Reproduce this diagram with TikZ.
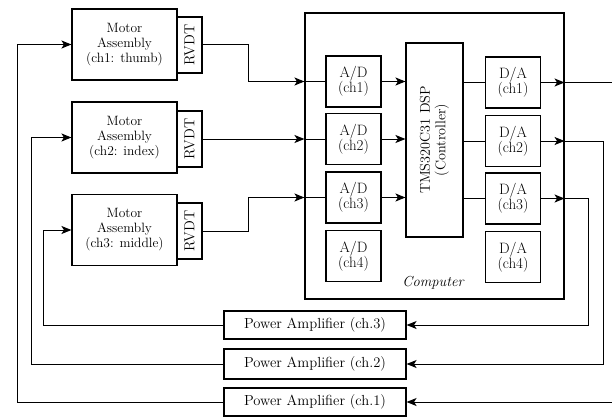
\documentclass[tikz,border=0pt]{standalone}
\usetikzlibrary{arrows.meta}
\begin{document}
\begin{tikzpicture}[x=1pt,y=-1pt,
  every node/.style={font=\fontsize{13.5}{15}\selectfont},
  box/.style={draw,line width=1.1pt,inner sep=0pt,align=center},
  wire/.style={line width=1pt},
  arr/.style={wire,-{Stealth[length=10pt,width=8pt,inset=2.5pt]}},
  motor/.style={box,minimum width=105pt,minimum height=71pt},
  conv/.style={box,minimum width=55pt,minimum height=51pt,font=\fontsize{15}{15}\selectfont},
  pamp/.style={box,minimum width=182pt,minimum height=29pt,font=\fontsize{14.6}{16}\selectfont}]
\useasboundingbox (0,0) rectangle (612,417);
% Motor assemblies
\node[motor] (m1) at (124.5,44.5) {Motor\\Assembly\\(ch1: thumb)};
\node[motor] (m2) at (124.5,137.5) {Motor\\Assembly\\(ch2: index)};
\node[motor] (m3) at (124.5,230) {Motor\\Assembly\\(ch3: middle)};
\node[box,minimum width=25pt,minimum height=56pt] (r1) at (189.5,45) {};
\node[box,minimum width=25pt,minimum height=56pt] (r2) at (189.5,139) {};
\node[box,minimum width=25pt,minimum height=56pt] (r3) at (189.5,231) {};
\node[rotate=90,font=\fontsize{14.5}{16}\selectfont] (r1t) at (r1) {RVDT};
\node[rotate=90,font=\fontsize{14.5}{16}\selectfont] (r2t) at (r2) {RVDT};
\node[rotate=90,font=\fontsize{14.5}{16}\selectfont] (r3t) at (r3) {RVDT};
% Computer
\node[box,minimum width=259pt,minimum height=286pt] (comp) at (434.5,156) {};
\node[font=\fontsize{14.5}{16}\selectfont\itshape] (clab) at (433,283) {Computer};
\node[conv] (ad1) at (353.5,81.5) {A/D\\(ch1)};
\node[conv] (ad2) at (353.5,139) {A/D\\(ch2)};
\node[conv] (ad3) at (353.5,197.5) {A/D\\(ch3)};
\node[conv] (ad4) at (353.5,256) {A/D\\(ch4)};
\node[box,minimum width=57pt,minimum height=194pt] (dsp) at (434.5,140) {};
\node[rotate=90,align=center,font=\fontsize{14.2}{15.5}\selectfont] (dspt) at (dsp) {TMS320C31 DSP\\(Controller)};
\node[conv] (da1) at (513,82.5) {D/A\\(ch1)};
\node[conv] (da2) at (513,141) {D/A\\(ch2)};
\node[conv] (da3) at (513,198.5) {D/A\\(ch3)};
\node[conv] (da4) at (513,257) {D/A\\(ch4)};
% Power amplifiers
\node[pamp,minimum height=28pt] (pa3) at (315,325) {Power Amplifier (ch.3)};
\node[pamp,minimum height=30pt] (pa2) at (315,364) {Power Amplifier (ch.2)};
\node[pamp,minimum height=28pt] (pa1) at (315,402) {Power Amplifier (ch.1)};
% RVDT -> A/D
\draw[arr] (r1.east) -- ++(46,0) |- (comp.west |- ad1.west);
\draw[wire] (comp.west |- ad1.west) -- (ad1.west);
\draw[arr] (r2.east) -- (comp.west |- ad2.west);
\draw[wire] (comp.west |- ad2.west) -- (ad2.west);
\draw[arr] (r3.east) -- ++(46,0) |- (comp.west |- ad3.west);
\draw[wire] (comp.west |- ad3.west) -- (ad3.west);
% A/D -> DSP
\draw[arr] (ad1.east) -- (dsp.west |- ad1.east);
\draw[arr] (ad2.east) -- (dsp.west |- ad2.east);
\draw[arr] (ad3.east) -- (dsp.west |- ad3.east);
% DSP -> D/A
\draw[wire] (dsp.east |- da1.west) -- (da1.west);
\draw[wire] (dsp.east |- da2.west) -- (da2.west);
\draw[wire] (dsp.east |- da3.west) -- (da3.west);
% D/A -> outputs
\coordinate (e1) at (612,82.5);
\coordinate (e1b) at (612,402);
\draw[arr] (da1.east) -- (comp.east |- da1.east);
\draw[wire] (comp.east |- da1.east) -- (e1);
\draw[arr] (da2.east) -- (comp.east |- da2.east);
\draw[arr] (comp.east |- da2.east) -- (603,141) |- (pa2.east);
\draw[arr] (da3.east) -- (comp.east |- da3.east);
\draw[arr] (comp.east |- da3.east) -- (588,198.5) |- (pa3.east);
\draw[arr] (e1b) -- (pa1.east);
% Power amplifiers -> motors
\draw[arr] (pa3.west) -- (43,325) |- (m3.west);
\draw[arr] (pa2.west) -- (31,364) |- (m2.west);
\draw[arr] (pa1.west) -- (17,402) |- (m1.west);
\end{tikzpicture}
\end{document}
